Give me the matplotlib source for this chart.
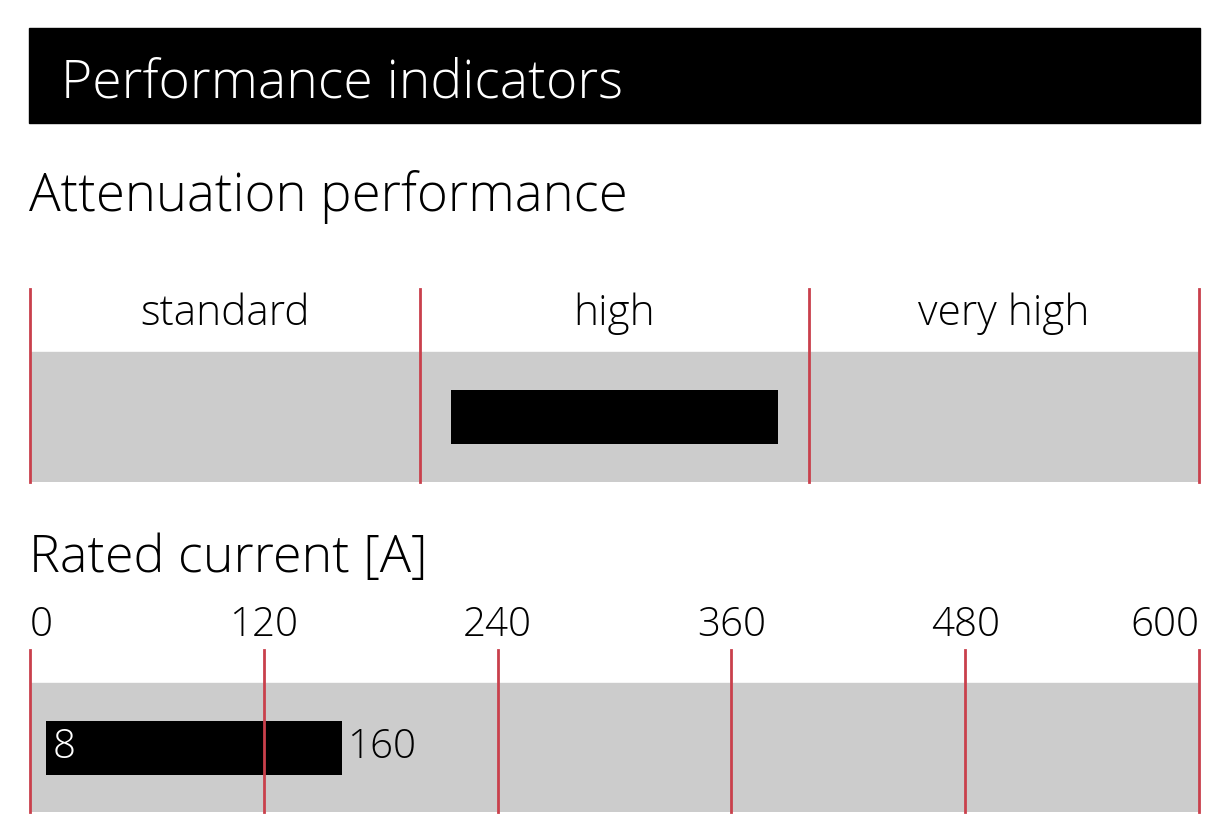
import matplotlib
matplotlib.use("Agg")
import matplotlib.pyplot as plt
from matplotlib.patches import Rectangle
from matplotlib import font_manager as fm

# ---- data ----
title = "Performance indicators"
att_title = "Attenuation performance"
att_categories = ["standard", "high", "very high"]
att_bar = (1.08, 1.92)          # position of the bar on the category scale (0..3)
cur_title = "Rated current [A]"
cur_ticks = [0, 120, 240, 360, 480, 600]
cur_range = (8, 160)

RED = "#c9404c"
GRAY = "#cccccc"

names = {f.name for f in fm.fontManager.ttflist}
FONT = "Open Sans" if "Open Sans" in names else "DejaVu Sans"
plt.rcParams["font.family"] = [FONT, "DejaVu Sans"]
plt.rcParams["font.weight"] = "light"

W, H = 1222, 824
fig = plt.figure(figsize=(W / 100, H / 100), dpi=100)

def fx(px):
    return px / W

def fy(py):
    return 1 - py / H

# title bar
fig.patches.append(Rectangle((fx(29), fy(123)), fx(1200) - fx(29), fy(28) - fy(123),
                             transform=fig.transFigure, color="black", zorder=0))
fig.text(fx(61), fy(98), title, color="white", fontsize=38.5, ha="left", va="baseline",
         fontweight="light")
fig.text(fx(29), fy(211), att_title, color="black", fontsize=38, ha="left", va="baseline",
         fontweight="light")
fig.text(fx(29), fy(572), cur_title, color="black", fontsize=37.5, ha="left", va="baseline",
         fontweight="light")

# ---- attenuation axes ----
L, R = 30, 1199
ax1 = fig.add_axes([fx(L), fy(482), fx(R) - fx(L), fy(289) - fy(482)])
ax1.set_xlim(0, len(att_categories))
ax1.set_ylim(0, 1)
ax1.axis("off")
band1 = (482 - 352) / (482 - 289)
ax1.axhspan(0, band1, color=GRAY, zorder=1)
ax1.barh(((482 - 444) + (482 - 390)) / 2 / (482 - 289), att_bar[1] - att_bar[0], left=att_bar[0],
         height=(444 - 390) / (482 - 289), color="black", zorder=2)
for i in range(len(att_categories) + 1):
    ax1.axvline(i, color=RED, lw=2, zorder=3, clip_on=False)
for i, c in enumerate(att_categories):
    ax1.text(i + 0.5, (482 - 325) / (482 - 289), c, ha="center", va="baseline",
             fontsize=30.5, fontweight="light")

# ---- current axes ----
ax2 = fig.add_axes([fx(L), fy(812), fx(R) - fx(L), fy(650) - fy(812)])
ax2.set_xlim(cur_ticks[0], cur_ticks[-1])
ax2.set_ylim(0, 1)
ax2.axis("off")
h2 = 812 - 650
band2 = (812 - 683) / h2
ax2.axhspan(0, band2, color=GRAY, zorder=1)
bar_c = ((812 - 775) + (812 - 721)) / 2 / h2
ax2.barh(bar_c, cur_range[1] - cur_range[0], left=cur_range[0],
         height=(775 - 721) / h2, color="black", zorder=2)
for t in cur_ticks:
    ax2.axvline(t, color=RED, lw=2, zorder=3, clip_on=False)
for i, t in enumerate(cur_ticks):
    ha = "left" if i == 0 else ("right" if i == len(cur_ticks) - 1 else "center")
    ax2.text(t, (812 - 636) / h2, str(t), ha=ha, va="baseline", fontsize=29,
             fontweight="light", clip_on=False)
ax2.annotate(str(cur_range[0]), (cur_range[0], bar_c), xytext=(5, 0),
             textcoords="offset points", color="white", ha="left", va="center",
             fontsize=29, fontweight="light", zorder=4)
ax2.annotate(str(cur_range[1]), (cur_range[1], bar_c), xytext=(4, 0),
             textcoords="offset points", color="black", ha="left", va="center",
             fontsize=29, fontweight="light", zorder=4)

fig.savefig("out.png", dpi=100)
